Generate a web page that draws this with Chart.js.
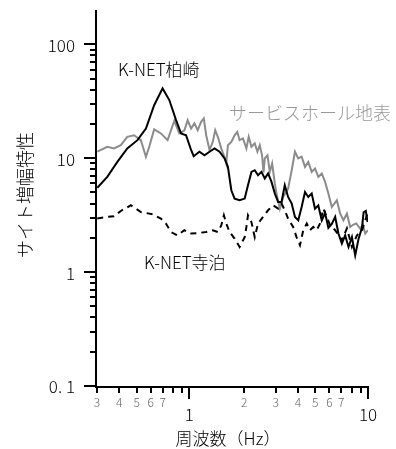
<!DOCTYPE html>
<html>
<head>
<meta charset="utf-8">
<script src="https://cdn.jsdelivr.net/npm/chart.js@4/dist/chart.umd.min.js"></script>
<style>
    html, body { margin: 0; padding: 0; background: #fff; }
    canvas { display: block; }
</style>
</head>
<body>
<canvas id="chart" width="396" height="449"></canvas>
<script>
(function () {
    'use strict';

    // K-NET柏崎 (solid black)
    var kashiwazakiFreq = [0.305, 0.347, 0.395, 0.449, 0.512, 0.571, 0.635, 0.708, 0.772, 0.842, 0.898, 0.958,
        1.022, 1.057, 1.138, 1.215, 1.296, 1.383, 1.475, 1.574, 1.643, 1.717, 1.791, 1.911, 2.040, 2.128,
        2.225, 2.322, 2.423, 2.532, 2.643, 2.758, 2.883, 3.009, 3.14, 3.28, 3.42, 3.57, 3.74, 3.90, 4.07,
        4.25, 4.44, 4.63, 4.84, 5.05, 5.27, 5.51, 5.75, 6.00, 6.27, 6.55, 6.83, 7.14, 7.45, 7.78, 8.13,
        8.48, 8.85, 9.25, 9.45, 9.72, 9.95],
        kashiwazakiAmp = [5.5, 6.85, 9.28, 12.2, 14.4, 18.2, 29.2, 41.0, 32.4, 21.6, 16.5, 15.9,
        11.8, 10.4, 11.4, 10.6, 11.4, 12.2, 11.4, 9.94, 8.39, 5.23, 4.42, 4.27, 4.42, 5.79,
        7.58, 7.84, 7.09, 7.58, 6.63, 7.34, 6.19, 4.89, 4.13, 4.13, 5.79, 4.57, 4.00, 3.05, 2.85,
        3.73, 5.05, 4.57, 4.90, 3.60, 3.85, 2.85, 3.30, 2.45, 2.65, 3.05, 2.18, 1.78, 2.10, 1.66, 2.03,
        1.40, 1.95, 2.45, 3.35, 3.45, 2.75],

        // サービスホール地表 (grey)
        holeFreq = [0.305, 0.347, 0.378, 0.413, 0.449, 0.490, 0.535, 0.571, 0.596, 0.635, 0.693, 0.755,
        0.823, 0.878, 0.937, 0.978, 1.022, 1.067, 1.113, 1.164, 1.204, 1.242, 1.296, 1.352, 1.395, 1.443,
        1.508, 1.574, 1.609, 1.643, 1.717, 1.791, 1.855, 1.911, 1.995, 2.085, 2.148, 2.225, 2.322, 2.404,
        2.477, 2.552, 2.600, 2.643, 2.737, 2.820, 2.905, 3.009, 3.075, 3.21, 3.35, 3.57, 3.74, 3.90, 4.07,
        4.25, 4.44, 4.63, 4.84, 5.05, 5.27, 5.51, 5.75, 6.00, 6.27, 6.69, 6.99, 7.29, 7.62, 7.95, 8.24,
        8.60, 9.05, 9.35, 9.65, 10.0],
        holeAmp = [11.4, 12.6, 12.2, 13.0, 15.4, 15.9, 14.4, 10.3, 12.6, 17.9, 16.5, 14.4,
        21.3, 16.5, 17.5, 21.6, 18.2, 20.2, 17.6, 20.9, 22.3, 15.9, 11.8, 13.9, 17.6, 15.4,
        12.2, 10.2, 9.0, 13.0, 13.9, 15.9, 17.0, 14.4, 14.9, 12.2, 15.4, 12.6, 13.5, 11.4,
        13.0, 10.6, 7.5, 9.94, 10.6, 7.58, 8.98, 6.0, 4.89, 3.61, 4.57, 5.41, 7.84, 11.4, 9.94,
        10.3, 8.39, 9.28, 7.58, 8.12, 6.85, 7.34, 6.19, 4.89, 3.73, 4.27, 3.26, 2.85, 3.26, 2.49, 2.60,
        2.67, 2.40, 2.62, 2.18, 2.33],

        // K-NET寺泊 (dashed black)
        teradomariFreq = [0.305, 0.347, 0.378, 0.413, 0.470, 0.535, 0.622, 0.693, 0.739, 0.789, 0.859, 0.937,
        1.022, 1.113, 1.242, 1.352, 1.443, 1.508, 1.560, 1.609, 1.679, 1.791, 1.911, 2.040, 2.085, 2.128,
        2.225, 2.322, 2.423, 2.585, 2.758, 2.943, 3.14, 3.28, 3.42, 3.57, 3.81, 3.98, 4.16, 4.34, 4.54,
        4.73, 4.94, 5.16, 5.39, 5.62, 5.88, 6.14, 6.55, 7.14, 7.62, 8.13, 8.67, 9.25, 9.65, 10.0],
        teradomariAmp = [2.95, 3.05, 3.09, 3.44, 3.86, 3.37, 3.22, 2.95, 2.67, 2.25, 2.10, 2.33,
        2.18, 2.20, 2.25, 2.33, 2.25, 2.57, 3.15, 2.67, 2.25, 1.97, 1.66, 2.03, 2.49, 3.15,
        2.75, 2.03, 2.67, 3.05, 3.49, 3.86, 3.61, 4.00, 3.49, 2.95, 2.49, 2.03, 1.72, 2.33, 2.67,
        2.33, 2.49, 2.33, 2.67, 3.61, 3.05, 2.57, 2.33, 1.90, 2.42, 1.66, 2.10, 2.33, 2.85, 3.35],

        yMajorTicks = [0.1, 1, 10, 100],
        yMajorLabels = ['0. 1', '1', '10', '100'],
        yMinorFactors = [2, 3, 4, 5, 6, 7, 8, 9],
        xMinorTicks = [0.3, 0.4, 0.5, 0.6, 0.7, 0.8, 0.9, 2, 3, 4, 5, 6, 7, 8, 9],
        xMinorLabels = [0.3, 0.4, 0.5, 0.6, 0.7, 2, 3, 4, 5, 6, 7],
        xMajorTicks = [1, 10];

    var FONT = '"Noto Sans CJK JP", "Noto Sans", sans-serif',

        toPoints = function (xs, ys) {
            return xs.map(function (x, i) { return { x: x, y: ys[i] }; });
        },

        minorLabel = function (value) {
            return value < 1 ? String(Math.round(value * 10)) : String(value);
        },

        // axes, ticks and all text drawn by hand, positioned by the chart scales
        axesPlugin = {
            id: 'plotAxes',
            afterDraw: function (chart) {
                var ctx = chart.ctx,
                    area = chart.chartArea,
                    xs = chart.scales.x,
                    ys = chart.scales.y;

                ctx.save();
                ctx.strokeStyle = '#000';
                ctx.lineWidth = 2;
                ctx.lineCap = 'butt';

                ctx.beginPath();
                ctx.moveTo(area.left, area.top);
                ctx.lineTo(area.left, area.bottom);
                ctx.moveTo(area.left - 1, area.bottom + 1);
                ctx.lineTo(area.right + 1, area.bottom + 1);
                ctx.stroke();

                ctx.beginPath();
                yMajorTicks.forEach(function (v) {
                    var py = Math.round(ys.getPixelForValue(v));
                    ctx.moveTo(area.left - 12, py);
                    ctx.lineTo(area.left, py);
                    if (v < 100) {
                        yMinorFactors.forEach(function (f) {
                            var my = Math.round(ys.getPixelForValue(v * f));
                            ctx.moveTo(area.left - 6, my);
                            ctx.lineTo(area.left, my);
                        });
                    }
                });
                xMinorTicks.forEach(function (v) {
                    var px = Math.round(xs.getPixelForValue(v)) + 1;
                    ctx.moveTo(px, area.bottom + 1);
                    ctx.lineTo(px, area.bottom + 7);
                });
                xMajorTicks.forEach(function (v) {
                    var px = Math.round(xs.getPixelForValue(v));
                    ctx.moveTo(px, area.bottom + 1);
                    ctx.lineTo(px, area.bottom + 13);
                });
                ctx.stroke();

                ctx.fillStyle = '#000';
                ctx.font = '300 17px ' + FONT;
                ctx.textAlign = 'right';
                ctx.textBaseline = 'middle';
                yMajorTicks.forEach(function (v, i) {
                    ctx.fillText(yMajorLabels[i], area.left - 21, ys.getPixelForValue(v) + 1);
                });

                ctx.textAlign = 'center';
                xMajorTicks.forEach(function (v) {
                    ctx.fillText(String(v), xs.getPixelForValue(v), area.bottom + 29);
                });

                ctx.fillStyle = '#666';
                ctx.font = '300 12px ' + FONT;
                xMinorLabels.forEach(function (v) {
                    ctx.fillText(minorLabel(v), xs.getPixelForValue(v) + 1, area.bottom + 16);
                });

                ctx.fillStyle = '#000';
                ctx.font = '300 17px ' + FONT;
                ctx.fillText('周波数（Hz）', 228, 439);

                ctx.save();
                ctx.translate(25, 195);
                ctx.rotate(-Math.PI / 2);
                ctx.font = '300 18px ' + FONT;
                ctx.fillText('サイト増幅特性', 0, 0);
                ctx.restore();

                ctx.textAlign = 'left';
                ctx.font = '300 17px ' + FONT;
                ctx.fillText('K-NET柏崎', 118, 70);
                ctx.fillText('K-NET寺泊', 144, 263);
                ctx.fillStyle = '#999';
                ctx.font = '300 18px ' + FONT;
                ctx.fillText('サービスホール地表', 229, 113);

                ctx.restore();
            }
        };

    new Chart(document.getElementById('chart').getContext('2d'), {
        type: 'line',
        data: {
            datasets: [{
                label: 'K-NET柏崎',
                data: toPoints(kashiwazakiFreq, kashiwazakiAmp),
                borderColor: '#000',
                borderWidth: 2
            }, {
                label: 'K-NET寺泊',
                data: toPoints(teradomariFreq, teradomariAmp),
                borderColor: '#000',
                borderWidth: 2,
                borderDash: [6, 5]
            }, {
                label: 'サービスホール地表',
                data: toPoints(holeFreq, holeAmp),
                borderColor: '#8c8c8c',
                borderWidth: 2
            }]
        },
        options: {
            responsive: false,
            animation: false,
            devicePixelRatio: 1,
            layout: { padding: { left: 96, right: 28, top: 10, bottom: 63 } },
            elements: {
                point: { radius: 0 },
                line: { tension: 0, fill: false }
            },
            plugins: {
                legend: { display: false },
                tooltip: { enabled: false }
            },
            scales: {
                x: { type: 'logarithmic', min: 0.3, max: 10, display: false },
                y: { type: 'logarithmic', min: 0.1, max: 200, display: false }
            }
        },
        plugins: [axesPlugin]
    });
}());
</script>
</body>
</html>
